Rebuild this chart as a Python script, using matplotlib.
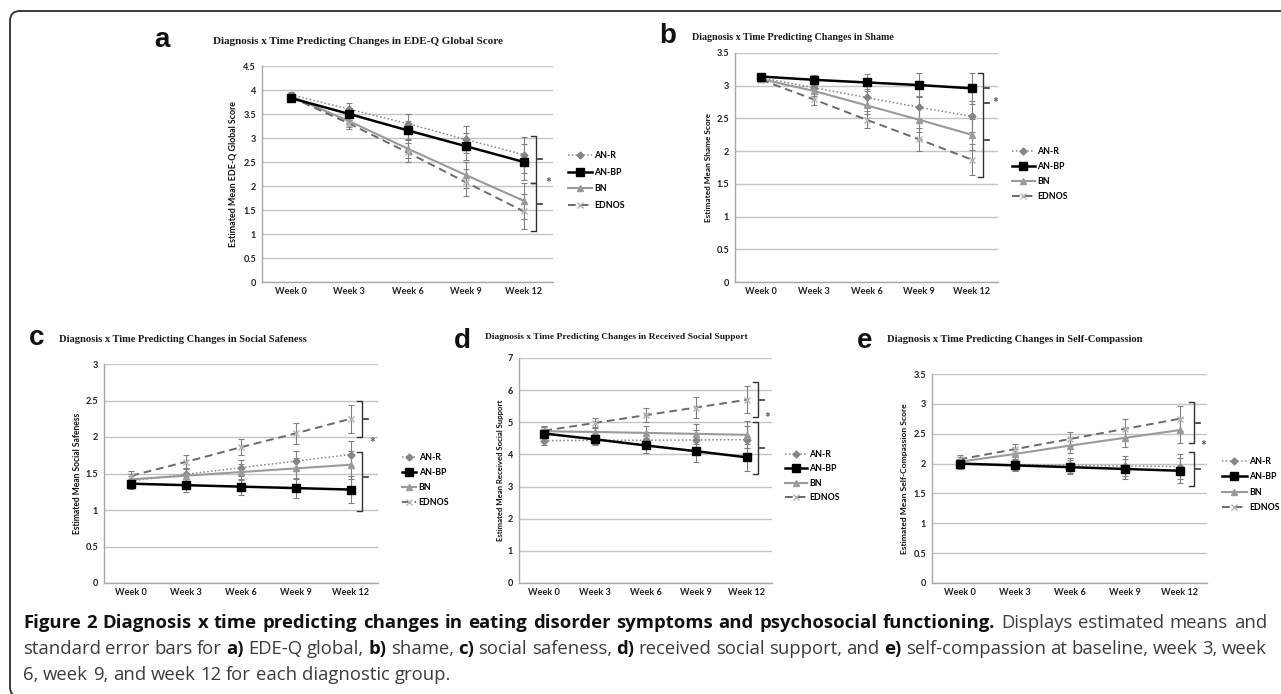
import matplotlib

matplotlib.use("Agg")

import matplotlib.pyplot as plt
import numpy as np
from matplotlib.lines import Line2D
from matplotlib.patches import FancyBboxPatch
from matplotlib.ticker import FuncFormatter
from matplotlib.transforms import IdentityTransform

W, H = 1281, 694

weeks = ["Week 0", "Week 3", "Week 6", "Week 9", "Week 12"]
groups = ["AN-R", "AN-BP", "BN", "EDNOS"]

# a) EDE-Q global
edeq_anr = [3.90, 3.60, 3.30, 2.97, 2.65]
edeq_anbp = [3.83, 3.50, 3.16, 2.83, 2.50]
edeq_bn = [3.87, 3.35, 2.78, 2.23, 1.69]
edeq_ednos = [3.85, 3.30, 2.70, 2.08, 1.47]
edeq_se = [0.06, 0.12, 0.20, 0.28, 0.37]
edeq_braces = [(3.05, 2.07, [2.57]), (2.07, 1.07, [1.62])]
edeq_star = 2.06

# b) shame
shame_anr = [3.12, 2.97, 2.82, 2.67, 2.53]
shame_anbp = [3.14, 3.09, 3.05, 3.01, 2.96]
shame_bn = [3.10, 2.92, 2.70, 2.48, 2.25]
shame_ednos = [3.09, 2.79, 2.48, 2.18, 1.87]
shame_se = [0.03, 0.08, 0.13, 0.18, 0.24]
shame_braces = [(3.20, 1.60, [2.97, 2.74, 2.17])]
shame_star = 2.73

# c) social safeness
safe_anr = [1.40, 1.49, 1.58, 1.67, 1.76]
safe_anbp = [1.36, 1.34, 1.32, 1.30, 1.28]
safe_bn = [1.42, 1.47, 1.52, 1.57, 1.62]
safe_ednos = [1.47, 1.66, 1.86, 2.05, 2.25]
safe_se = [0.07, 0.09, 0.11, 0.14, 0.19]
safe_braces = [(2.49, 2.00, [2.25]), (1.80, 0.98, [1.45])]
safe_star = 1.92

# d) received social support
support_anr = [4.43, 4.44, 4.44, 4.45, 4.46]
support_anbp = [4.65, 4.47, 4.28, 4.10, 3.91]
support_bn = [4.72, 4.70, 4.67, 4.64, 4.61]
support_ednos = [4.74, 4.98, 5.22, 5.46, 5.70]
support_se = [0.13, 0.15, 0.22, 0.32, 0.42]
support_braces = [(6.25, 5.16, [5.70]), (5.00, 3.40, [4.20])]
support_star = 5.13

# e) self-compassion
comp_anr = [1.99, 1.98, 1.97, 1.96, 1.95]
comp_anbp = [2.00, 1.97, 1.94, 1.91, 1.88]
comp_bn = [2.03, 2.16, 2.30, 2.43, 2.56]
comp_ednos = [2.07, 2.24, 2.41, 2.58, 2.75]
comp_se = [0.08, 0.09, 0.12, 0.16, 0.21]
comp_braces = [(3.03, 2.34, [2.68]), (2.19, 1.62, [1.91])]
comp_star = 2.29

caption_lines = [
    [("Figure 2 Diagnosis x time predicting changes in eating disorder symptoms and psychosocial functioning.", True),
     ("Displays estimated means and", False)],
    [("standard error bars for", False), ("a)", True), ("EDE-Q global,", False), ("b)", True), ("shame,", False),
     ("c)", True), ("social safeness,", False), ("d)", True), ("received social support, and", False),
     ("e)", True), ("self-compassion at baseline, week 3, week", False)],
    [("6, week 9, and week 12 for each diagnostic group.", False)],
]

STYLES = [
    dict(color="#858585", ls=(0, (1, 1.5)), lw=1.1, marker="D", ms=3.5, mfc="#858585", mec="#858585"),
    dict(color="#000000", ls="-", lw=1.8, marker="s", ms=5.2, mfc="#000000", mec="#000000"),
    dict(color="#9a9a9a", ls="-", lw=1.5, marker="^", ms=5.0, mfc="#9a9a9a", mec="#9a9a9a"),
    dict(color="#6a6a6a", ls=(0, (4, 2.5)), lw=1.4, marker="x", ms=5.0, mec="#b3b3b3", mew=1.0),
]
ZORDERS = [3, 6, 4, 5]

PANELS = [
    dict(series=[edeq_anr, edeq_anbp, edeq_bn, edeq_ednos], se=edeq_se, ymax=4.5,
         braces=edeq_braces, star=edeq_star, letter="a",
         title="Diagnosis x Time Predicting Changes in EDE-Q Global Score",
         ylabel="Estimated Mean EDE-Q Global Score",
         box=(262, 66, 553, 282), letter_xy=(162, 47), title_xy=(213, 41), title_w=292,
         ylabel_x=233, ylabel_len=147, legend_xy=(568, 180.5), hl=2.7, ls=0.85,
         brace_x=536, star_x=548),
    dict(series=[shame_anr, shame_anbp, shame_bn, shame_ednos], se=shame_se, ymax=3.5,
         braces=shame_braces, star=shame_star, letter="b",
         title="Diagnosis x Time Predicting Changes in Shame",
         ylabel="Estimated Mean Shame Score",
         box=(735, 53, 998, 282), letter_xy=(668, 43), title_xy=(692, 37), title_w=202,
         ylabel_x=709, ylabel_len=110, legend_xy=(1012, 174), hl=2.6, ls=0.68,
         brace_x=983, star_x=995),
    dict(series=[safe_anr, safe_anbp, safe_bn, safe_ednos], se=safe_se, ymax=3.0,
         braces=safe_braces, star=safe_star, letter="c",
         title="Diagnosis x Time Predicting Changes in Social Safeness",
         ylabel="Estimated Mean Social Safeness",
         box=(104, 364, 378, 583), letter_xy=(37, 345), title_xy=(59, 339), title_w=249,
         ylabel_x=78, ylabel_len=122, legend_xy=(402, 480), hl=1.6, ls=0.68,
         brace_x=362, star_x=372),
    dict(series=[support_anr, support_anbp, support_bn, support_ednos], se=support_se, ymax=7.0,
         braces=support_braces, star=support_star, letter="d",
         title="Diagnosis x Time Predicting Changes in Received Social Support",
         ylabel="Estimated Mean Received Social Support",
         box=(519, 358, 772, 583), letter_xy=(462, 348), title_xy=(485, 337), title_w=262,
         ylabel_x=501, ylabel_len=142, legend_xy=(785, 476), hl=2.5, ls=0.6,
         brace_x=758, star_x=767),
    dict(series=[comp_anr, comp_anbp, comp_bn, comp_ednos], se=comp_se, ymax=3.5,
         braces=comp_braces, star=comp_star, letter="e",
         title="Diagnosis x Time Predicting Changes in Self-Compassion",
         ylabel="Estimated Mean Self-Compassion Score",
         box=(932, 374, 1207, 583), letter_xy=(865, 348), title_xy=(887, 339), title_w=258,
         ylabel_x=905, ylabel_len=150, legend_xy=(1222, 484.5), hl=2.8, ls=0.71,
         brace_x=1194, star_x=1203),
]

plt.rcParams["font.family"] = ["Lato", "DejaVu Sans"]
plt.rcParams["font.weight"] = "bold"

fig = plt.figure(figsize=(W / 100, H / 100), dpi=100)
fig.patch.set_facecolor("white")
renderer = fig.canvas.get_renderer()


def fx(x):
    return x / W


def fy(y):
    return 1 - y / H


def measure(text, size, **kw):
    t = fig.text(0, 0, text, fontsize=size, **kw)
    w = t.get_window_extent(renderer).width
    t.remove()
    return w


def fit_size(text, width_px, **kw):
    return 10 * width_px / measure(text, 10, **kw)


def draw_panel(p):
    left, top, right, bottom = p["box"]
    ax = fig.add_axes([fx(left), fy(bottom), fx(right - left), (bottom - top) / H])
    x = np.arange(len(weeks))

    for vals, style, z in zip(p["series"], STYLES, ZORDERS):
        ax.errorbar(x, vals, yerr=p["se"], fmt="none", ecolor="#808080", elinewidth=0.8,
                    capsize=2.5, capthick=0.8, zorder=2)
        ax.plot(x, vals, zorder=z, **style)

    ax.set_xlim(-0.5, len(weeks) - 0.5)
    ax.set_ylim(0, p["ymax"])
    ax.set_xticks(x)
    ax.set_xticklabels(weeks)
    ax.set_yticks(np.arange(0, p["ymax"] + 0.01, 0.5 if p["ymax"] < 6 else 1.0))
    ax.yaxis.set_major_formatter(FuncFormatter(lambda v, _: f"{v:g}"))
    ax.yaxis.grid(True, color="#c4c4c4", lw=1.0)
    ax.set_axisbelow(True)
    for side in ("top", "right"):
        ax.spines[side].set_visible(False)
    for side in ("left", "bottom"):
        ax.spines[side].set_color("#a8a8a8")
        ax.spines[side].set_linewidth(1.0)
    ax.tick_params(axis="x", length=0, labelsize=6.6, pad=3.6, colors="#222222")
    ax.tick_params(axis="y", length=0, labelsize=6.6, pad=4.2, colors="#222222")

    # significance braces on the right of week 12
    aw = right - left
    trans = ax.get_yaxis_transform()
    bx = (p["brace_x"] - left) / aw
    hook = 5 / aw
    tip = 6 / aw
    for top_v, bot_v, ticks in p["braces"]:
        ax.plot([bx - hook, bx, bx, bx - hook], [top_v, top_v, bot_v, bot_v], color="#333333",
                lw=1.0, transform=trans, clip_on=False, zorder=7)
        for t in ticks:
            ax.plot([bx + 1.5 / aw, bx + tip], [t, t], color="#333333", lw=1.2,
                    transform=trans, clip_on=False, zorder=7)
    ax.text((p["star_x"] - left) / aw, p["star"], "*", transform=trans, ha="center", va="center",
            fontsize=10, color="#555555", fontweight="bold", clip_on=False)

    # panel texts
    fig.text(fx(p["letter_xy"][0]), fy(p["letter_xy"][1]), p["letter"], ha="center", va="baseline",
             fontsize=20, fontweight="bold", family="Liberation Sans", color="#111111")
    tsize = fit_size(p["title"], p["title_w"], family="Liberation Serif", fontweight="bold")
    fig.text(fx(p["title_xy"][0]), fy(p["title_xy"][1]), p["title"], ha="left", va="center",
             fontsize=tsize, family="Liberation Serif", fontweight="bold", color="#1a1a1a")
    ysize = fit_size(p["ylabel"], p["ylabel_len"], fontweight="bold")
    fig.text(fx(p["ylabel_x"]), fy((top + bottom) / 2), p["ylabel"], rotation=90, ha="center",
             va="center", fontsize=ysize, fontweight="bold", color="#111111")

    handles = [Line2D([], [], **style) for style in STYLES]
    fig.legend(handles, groups, loc="center left",
               bbox_to_anchor=(fx(p["legend_xy"][0]), fy(p["legend_xy"][1])),
               frameon=False, fontsize=6.3, handlelength=p["hl"], handletextpad=0.3,
               labelspacing=p["ls"], borderpad=0, borderaxespad=0)


for panel in PANELS:
    draw_panel(panel)

# caption, justified like the journal layout
CAP_FONT = "Open Sans"
cap_left, cap_right = 23, 1267
cap_baselines = [628, 654, 680]


def line_words(line):
    words = []
    for text, bold in line:
        for w in text.split(" "):
            words.append((w, "bold" if bold else "normal"))
    return words


first = line_words(caption_lines[0])
space10 = measure("x x", 10, family=CAP_FONT) - measure("xx", 10, family=CAP_FONT)
natural10 = sum(measure(w, 10, family=CAP_FONT, fontweight=wt) for w, wt in first)
natural10 += space10 * (len(first) - 1)
cap_size = 10 * (cap_right - cap_left) / natural10 * 0.985

space = measure("x x", cap_size, family=CAP_FONT) - measure("xx", cap_size, family=CAP_FONT)
for i, line in enumerate(caption_lines):
    words = line_words(line)
    widths = [measure(w, cap_size, family=CAP_FONT, fontweight=wt) for w, wt in words]
    if i < len(caption_lines) - 1 and len(words) > 1:
        gap = (cap_right - cap_left - sum(widths)) / (len(words) - 1)
    else:
        gap = space
    xpos = cap_left
    for (w, wt), wd in zip(words, widths):
        fig.text(fx(xpos), fy(cap_baselines[i]), w, ha="left", va="baseline", fontsize=cap_size,
                 family=CAP_FONT, fontweight=wt, color="#111111" if wt == "bold" else "#3c3c3c")
        xpos += wd + gap

# rounded frame, only top and left edges fall inside the picture
frame = FancyBboxPatch((10, H - 697), 1320, 686, boxstyle="round,pad=0,rounding_size=10",
                       transform=IdentityTransform(), facecolor="none", edgecolor="#3a3a3a", lw=1.4)
fig.add_artist(frame)

fig.savefig("out.png", dpi=100)
plt.close(fig)
